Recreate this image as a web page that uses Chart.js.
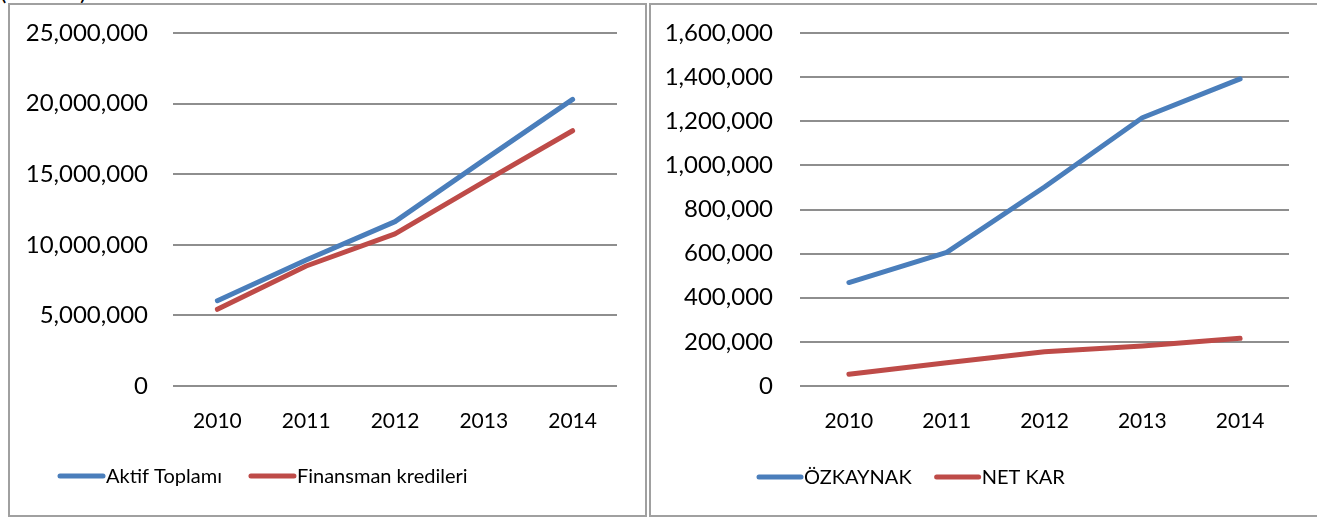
<!DOCTYPE html>
<html>
<head>
<meta charset="utf-8">
<script src="https://cdn.jsdelivr.net/npm/chart.js@4.4.1/dist/chart.umd.min.js"></script>
<style>
  html, body { margin:0; padding:0; background:#fff; width:1317px; height:517px; overflow:hidden; position:relative; }
  .box { position:absolute; border:2px solid #a0a0a0; box-sizing:border-box; background:#fff; }
  canvas { position:absolute; }
  #unit { position:absolute; left:0; top:-24px; font-family:Lato, sans-serif; font-size:24px; color:#000; }
</style>
</head>
<body>
<div id="unit">(000 TL)</div>
<div class="box" style="left:8px; top:3px; width:639px; height:514px;"></div>
<div class="box" style="left:649px; top:3px; width:680px; height:514px;"></div>
<canvas id="c1" width="646" height="517" style="left:0; top:0; width:646px; height:517px;"></canvas>
<canvas id="c2" width="668" height="517" style="left:649px; top:0; width:668px; height:517px;"></canvas>
<script>
// ---- data ----
const years = ["2010", "2011", "2012", "2013", "2014"];
const aktifToplami = [6040000, 8920000, 11640000, 16000000, 20300000];
const finansmanKredileri = [5430000, 8500000, 10770000, 14450000, 18080000];
const ozkaynak = [469000, 606000, 902000, 1216000, 1392000];
const netKar = [53000, 105000, 155000, 181000, 216000];
const leftTicks = [0, 5000000, 10000000, 15000000, 20000000, 25000000];
const rightTicks = [0, 200000, 400000, 600000, 800000, 1000000, 1200000, 1400000, 1600000];

const FONT = 'Lato, "Open Sans", sans-serif';
const Y_FSIZE = 24;
const X_FSIZE = 21;
const L_FSIZE = 20;
const BLUE = '#4a7ebb';
const RED = '#be4b48';
const GRID = '#8e8e8e';

const legendPlugin = {
  id: 'lineLegend',
  afterDraw(chart, args, opts) {
    const ctx = chart.ctx;
    ctx.save();
    ctx.font = L_FSIZE + 'px ' + FONT;
    ctx.textBaseline = 'middle';
    ctx.textAlign = 'left';
    let x = opts.x;
    const y = opts.y;
    chart.data.datasets.forEach((ds) => {
      ctx.strokeStyle = ds.borderColor;
      ctx.lineWidth = ds.borderWidth;
      ctx.lineCap = 'round';
      ctx.beginPath();
      ctx.moveTo(x + 2, y);
      ctx.lineTo(x + opts.lineLen - 2, y);
      ctx.stroke();
      x += opts.lineLen + opts.textGap;
      ctx.fillStyle = '#000';
      ctx.fillText(ds.label, x, y + 1);
      x += ctx.measureText(ds.label).width + opts.itemGap;
    });
    ctx.restore();
  }
};

function makeChart(id, d1, d2, l1, l2, ticks, area, legend) {
  return new Chart(document.getElementById(id), {
    type: 'line',
    data: {
      labels: years,
      datasets: [
        { label: l1, data: d1, borderColor: BLUE, backgroundColor: BLUE, borderWidth: 5,
          pointRadius: 0, tension: 0, borderCapStyle: 'round', borderJoinStyle: 'round' },
        { label: l2, data: d2, borderColor: RED, backgroundColor: RED, borderWidth: 5,
          pointRadius: 0, tension: 0, borderCapStyle: 'round', borderJoinStyle: 'round' }
      ]
    },
    options: {
      responsive: false,
      animation: false,
      devicePixelRatio: 1,
      layout: { padding: { left: 0, top: area.top, right: area.right, bottom: 0 } },
      plugins: {
        legend: { display: false },
        tooltip: { enabled: false },
        lineLegend: legend
      },
      scales: {
        x: {
          offset: true,
          grid: { display: false, drawTicks: false },
          border: { display: false },
          ticks: { color: '#000', font: { family: FONT, size: X_FSIZE }, padding: area.xPad, maxRotation: 0 },
          afterFit(scale) { scale.height = area.xHeight; scale.paddingLeft = 0; scale.paddingRight = 0; }
        },
        y: {
          min: ticks[0], max: ticks[ticks.length - 1],
          afterBuildTicks(scale) { scale.ticks = ticks.map(v => ({ value: v })); },
          grid: { color: GRID, lineWidth: 2, drawTicks: false },
          border: { display: false },
          ticks: { color: '#000', font: { family: FONT, size: Y_FSIZE }, padding: area.yPad,
                   callback: (v) => Number(v).toLocaleString('en-US') },
          afterFit(scale) { scale.width = area.yWidth; scale.paddingTop = 0; scale.paddingBottom = 0; }
        }
      }
    },
    plugins: [legendPlugin]
  });
}

makeChart('c1', aktifToplami, finansmanKredileri, 'Aktif Toplamı', 'Finansman kredileri', leftTicks,
  { top: 33, right: 29, xHeight: 131, xPad: 23, yPad: 25, yWidth: 173 },
  { x: 58, y: 476, lineLen: 47, textGap: 1, itemGap: 27 });

makeChart('c2', ozkaynak, netKar, 'ÖZKAYNAK', 'NET KAR', rightTicks,
  { top: 33, right: 28, xHeight: 131, xPad: 23, yPad: 27, yWidth: 151 },
  { x: 108, y: 477, lineLen: 46, textGap: 1, itemGap: 23 });
</script>
</body>
</html>
